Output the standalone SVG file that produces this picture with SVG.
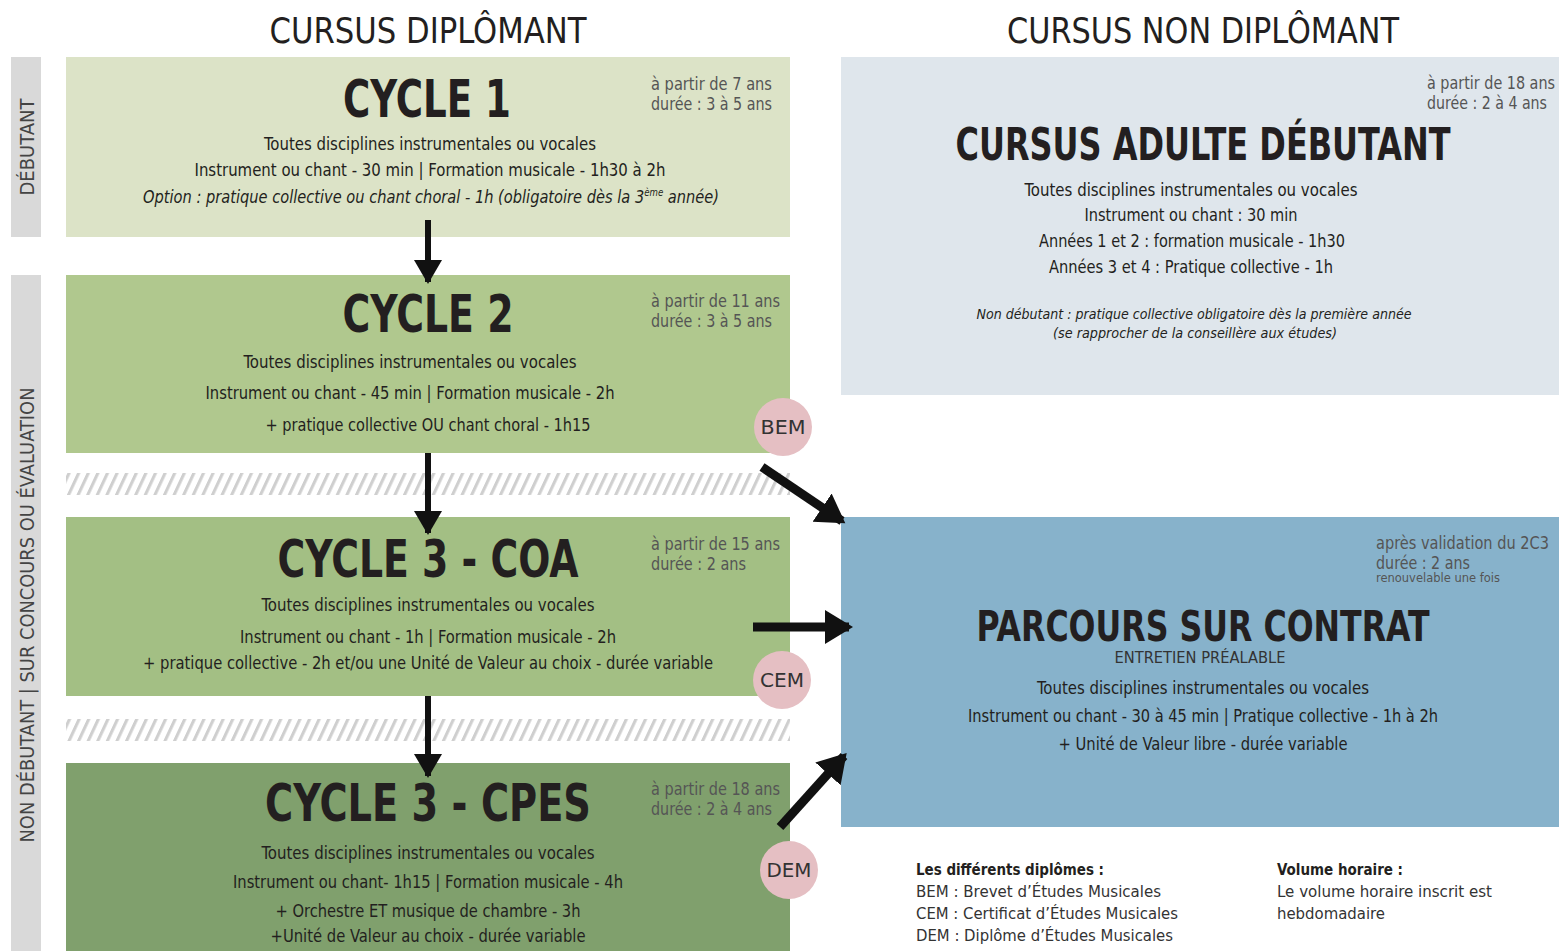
<svg xmlns="http://www.w3.org/2000/svg" width="1559" height="951" viewBox="0 0 1559 951">
<style>
text{font-family:"DejaVu Sans Condensed","DejaVu Sans",sans-serif;font-stretch:condensed;fill:#231f20}
.h{font-size:36px;text-anchor:middle}
.t{font-weight:bold;text-anchor:middle}
.b{font-size:17px;text-anchor:middle}
.a{font-size:17px;fill:#555}
.i{font-style:italic}
.s{font-family:"DejaVu Sans",sans-serif;font-stretch:normal;font-size:19px;fill:#444;text-anchor:middle}
.c{font-family:"DejaVu Sans",sans-serif;font-stretch:normal;font-size:19px;fill:#333;text-anchor:middle}
.l{font-size:16px;fill:#333}
.ar{stroke:#111;stroke-width:6;fill:none}
.ad{stroke:#111;stroke-width:9;fill:none}
</style>
<defs>
<pattern id="hatch" patternUnits="userSpaceOnUse" width="9.6" height="30" patternTransform="skewX(-25)">
<rect x="0" y="0" width="3.4" height="30" fill="#cfcfcf"/>
</pattern>
<marker id="ah" markerUnits="userSpaceOnUse" markerWidth="30" markerHeight="30" refX="22" refY="14" orient="auto">
<path d="M0,0 L24,14 L0,28 Z" fill="#111"/>
</marker>
<marker id="ahd" markerUnits="userSpaceOnUse" markerWidth="36" markerHeight="36" refX="24" refY="17" orient="auto">
<path d="M0,0 L28,17 L0,34 Z" fill="#111"/>
</marker>
</defs>

<text class="h" x="428" y="43" textLength="317" lengthAdjust="spacingAndGlyphs">CURSUS DIPLÔMANT</text>
<text class="h" x="1203" y="43" textLength="392" lengthAdjust="spacingAndGlyphs">CURSUS NON DIPLÔMANT</text>

<g id="side-debutant">
<rect x="11" y="57" width="30" height="180" fill="#d9d9d9"/>
<text class="s" x="34" y="147" transform="rotate(-90 34 147)" textLength="97" lengthAdjust="spacingAndGlyphs">DÉBUTANT</text>
</g>
<g id="side-non-debutant">
<rect x="11" y="275" width="30" height="676" fill="#d9d9d9"/>
<text class="s" x="34" y="615" transform="rotate(-90 34 615)" textLength="455" lengthAdjust="spacingAndGlyphs">NON DÉBUTANT | SUR CONCOURS OU ÉVALUATION</text>
</g>

<g id="hatch-strips">
<rect x="66" y="473" width="724" height="22" fill="url(#hatch)"/>
<rect x="66" y="719" width="724" height="22" fill="url(#hatch)"/>
</g>

<g id="cycle1">
<rect x="66" y="57" width="724" height="180" fill="#dce3c7"/>
<text class="t" x="427" y="117" font-size="52" textLength="168" lengthAdjust="spacingAndGlyphs">CYCLE 1</text>
<text class="a" x="651" y="90" textLength="121" lengthAdjust="spacingAndGlyphs">à partir de 7 ans</text>
<text class="a" x="651" y="110" textLength="121" lengthAdjust="spacingAndGlyphs">durée : 3 à 5 ans</text>
<text class="b" x="430" y="150" textLength="332" lengthAdjust="spacingAndGlyphs">Toutes disciplines instrumentales ou vocales</text>
<text class="b" x="430" y="176" textLength="471" lengthAdjust="spacingAndGlyphs">Instrument ou chant - 30 min  | Formation musicale  - 1h30 à 2h</text>
<text class="b i" x="431" y="203" textLength="576" lengthAdjust="spacingAndGlyphs">Option : pratique collective ou chant choral - 1h (obligatoire dès la 3<tspan font-size="10" dy="-7">ème</tspan><tspan dy="7"> année)</tspan></text>
</g>

<g id="cycle2">
<rect x="66" y="275" width="724" height="178" fill="#b0c88e"/>
<text class="t" x="428" y="332" font-size="51" textLength="171" lengthAdjust="spacingAndGlyphs">CYCLE 2</text>
<text class="a" x="651" y="307" textLength="129" lengthAdjust="spacingAndGlyphs">à partir de 11 ans</text>
<text class="a" x="651" y="327" textLength="121" lengthAdjust="spacingAndGlyphs">durée : 3 à 5 ans</text>
<text class="b" x="410" y="368" textLength="333" lengthAdjust="spacingAndGlyphs">Toutes disciplines instrumentales ou vocales</text>
<text class="b" x="410" y="399" textLength="409" lengthAdjust="spacingAndGlyphs">Instrument ou chant - 45 min | Formation musicale - 2h</text>
<text class="b" x="428" y="431" textLength="325" lengthAdjust="spacingAndGlyphs">+ pratique collective OU chant choral - 1h15</text>
</g>

<g id="cycle3-coa">
<rect x="66" y="517" width="724" height="179" fill="#a3bf84"/>
<text class="t" x="428" y="577" font-size="51" textLength="301" lengthAdjust="spacingAndGlyphs">CYCLE 3 - COA</text>
<text class="a" x="651" y="550" textLength="129" lengthAdjust="spacingAndGlyphs">à partir de 15 ans</text>
<text class="a" x="651" y="570" textLength="95" lengthAdjust="spacingAndGlyphs">durée : 2 ans</text>
<text class="b" x="428" y="611" textLength="333" lengthAdjust="spacingAndGlyphs">Toutes disciplines instrumentales ou vocales</text>
<text class="b" x="428" y="643" textLength="376" lengthAdjust="spacingAndGlyphs">Instrument ou chant - 1h | Formation musicale - 2h</text>
<text class="b" x="428" y="669" textLength="570" lengthAdjust="spacingAndGlyphs">+ pratique collective - 2h et/ou une Unité de Valeur au choix - durée variable</text>
</g>

<g id="cycle3-cpes">
<rect x="66" y="763" width="724" height="188" fill="#80a06d"/>
<text class="t" x="428" y="821" font-size="51" textLength="326" lengthAdjust="spacingAndGlyphs">CYCLE 3 - CPES</text>
<text class="a" x="651" y="795" textLength="129" lengthAdjust="spacingAndGlyphs">à partir de 18 ans</text>
<text class="a" x="651" y="815" textLength="121" lengthAdjust="spacingAndGlyphs">durée : 2 à 4 ans</text>
<text class="b" x="428" y="859" textLength="333" lengthAdjust="spacingAndGlyphs">Toutes disciplines instrumentales ou vocales</text>
<text class="b" x="428" y="888" textLength="390" lengthAdjust="spacingAndGlyphs">Instrument ou chant- 1h15 | Formation musicale - 4h</text>
<text class="b" x="428" y="917" textLength="305" lengthAdjust="spacingAndGlyphs">+ Orchestre ET musique de chambre - 3h</text>
<text class="b" x="428" y="942" textLength="315" lengthAdjust="spacingAndGlyphs">+Unité de Valeur au choix - durée variable</text>
</g>

<g id="cursus-adulte">
<rect x="841" y="57" width="718" height="338" fill="#dfe6ec"/>
<text class="a" x="1427" y="89" textLength="128" lengthAdjust="spacingAndGlyphs">à partir de 18 ans</text>
<text class="a" x="1427" y="109" textLength="120" lengthAdjust="spacingAndGlyphs">durée : 2 à 4 ans</text>
<text class="t" x="1203" y="160" font-size="44" textLength="495" lengthAdjust="spacingAndGlyphs">CURSUS ADULTE DÉBUTANT</text>
<text class="b" x="1191" y="196" textLength="333" lengthAdjust="spacingAndGlyphs">Toutes disciplines instrumentales ou vocales</text>
<text class="b" x="1191" y="221" textLength="213" lengthAdjust="spacingAndGlyphs">Instrument ou chant : 30 min</text>
<text class="b" x="1192" y="247" textLength="306" lengthAdjust="spacingAndGlyphs">Années 1 et 2 : formation musicale - 1h30</text>
<text class="b" x="1191" y="273" textLength="284" lengthAdjust="spacingAndGlyphs">Années 3 et 4 : Pratique collective - 1h</text>
<text class="i" x="1194" y="319" font-size="14" text-anchor="middle" textLength="435" lengthAdjust="spacingAndGlyphs">Non débutant : pratique collective obligatoire dès la première année</text>
<text class="i" x="1195" y="338" font-size="14" text-anchor="middle" textLength="284" lengthAdjust="spacingAndGlyphs">(se rapprocher de la conseillère aux études)</text>
</g>

<g id="parcours-contrat">
<rect x="841" y="517" width="718" height="310" fill="#87b2cb"/>
<text class="a" x="1376" y="549" textLength="173" lengthAdjust="spacingAndGlyphs">après validation du 2C3</text>
<text class="a" x="1376" y="569" textLength="94" lengthAdjust="spacingAndGlyphs">durée : 2 ans</text>
<text x="1376" y="582" font-size="12" style="fill:#555" textLength="124" lengthAdjust="spacingAndGlyphs">renouvelable une fois</text>
<text class="t" x="1203" y="641" font-size="43" textLength="453" lengthAdjust="spacingAndGlyphs">PARCOURS SUR CONTRAT</text>
<text x="1200" y="663" font-size="15" text-anchor="middle" style="fill:#333" textLength="171" lengthAdjust="spacingAndGlyphs">ENTRETIEN PRÉALABLE</text>
<text class="b" x="1203" y="694" textLength="332" lengthAdjust="spacingAndGlyphs">Toutes disciplines instrumentales ou vocales</text>
<text class="b" x="1203" y="722" textLength="470" lengthAdjust="spacingAndGlyphs">Instrument ou chant - 30 à 45 min | Pratique collective - 1h à 2h</text>
<text class="b" x="1203" y="750" textLength="289" lengthAdjust="spacingAndGlyphs">+ Unité de Valeur libre - durée variable</text>
</g>

<g id="connectors">
<line class="ar" x1="428" y1="220" x2="428" y2="282" marker-end="url(#ah)"/>
<line class="ar" x1="428" y1="453" x2="428" y2="533" marker-end="url(#ah)"/>
<line class="ar" x1="428" y1="696" x2="428" y2="776" marker-end="url(#ah)"/>
<line class="ad" x1="762" y1="467" x2="842" y2="521" marker-end="url(#ahd)"/>
<line class="ad" x1="753" y1="627" x2="849" y2="627" marker-end="url(#ahd)"/>
<line class="ad" x1="780" y1="827" x2="844" y2="756" marker-end="url(#ahd)"/>
</g>

<g id="bem">
<circle cx="783" cy="427" r="29" fill="#e5bfc3"/>
<text class="c" x="783" y="434" textLength="45" lengthAdjust="spacingAndGlyphs">BEM</text>
</g>
<g id="cem">
<circle cx="782" cy="680" r="29" fill="#e5bfc3"/>
<text class="c" x="782" y="687" textLength="44" lengthAdjust="spacingAndGlyphs">CEM</text>
</g>
<g id="dem">
<circle cx="789" cy="870" r="29" fill="#e5bfc3"/>
<text class="c" x="789" y="877" textLength="45" lengthAdjust="spacingAndGlyphs">DEM</text>
</g>

<g id="legend">
<text class="l" x="916" y="875" font-weight="bold" style="fill:#231f20" textLength="188" lengthAdjust="spacingAndGlyphs">Les différents diplômes :</text>
<text class="l" x="916" y="897" textLength="245" lengthAdjust="spacingAndGlyphs">BEM : Brevet d’Études Musicales</text>
<text class="l" x="916" y="919" textLength="262" lengthAdjust="spacingAndGlyphs">CEM : Certificat d’Études Musicales</text>
<text class="l" x="916" y="941" textLength="257" lengthAdjust="spacingAndGlyphs">DEM : Diplôme d’Études Musicales</text>
<text class="l" x="1277" y="875" font-weight="bold" style="fill:#231f20" textLength="126" lengthAdjust="spacingAndGlyphs">Volume horaire :</text>
<text class="l" x="1277" y="897" textLength="215" lengthAdjust="spacingAndGlyphs">Le volume horaire inscrit est</text>
<text class="l" x="1277" y="919" textLength="108" lengthAdjust="spacingAndGlyphs">hebdomadaire</text>
</g>
</svg>
